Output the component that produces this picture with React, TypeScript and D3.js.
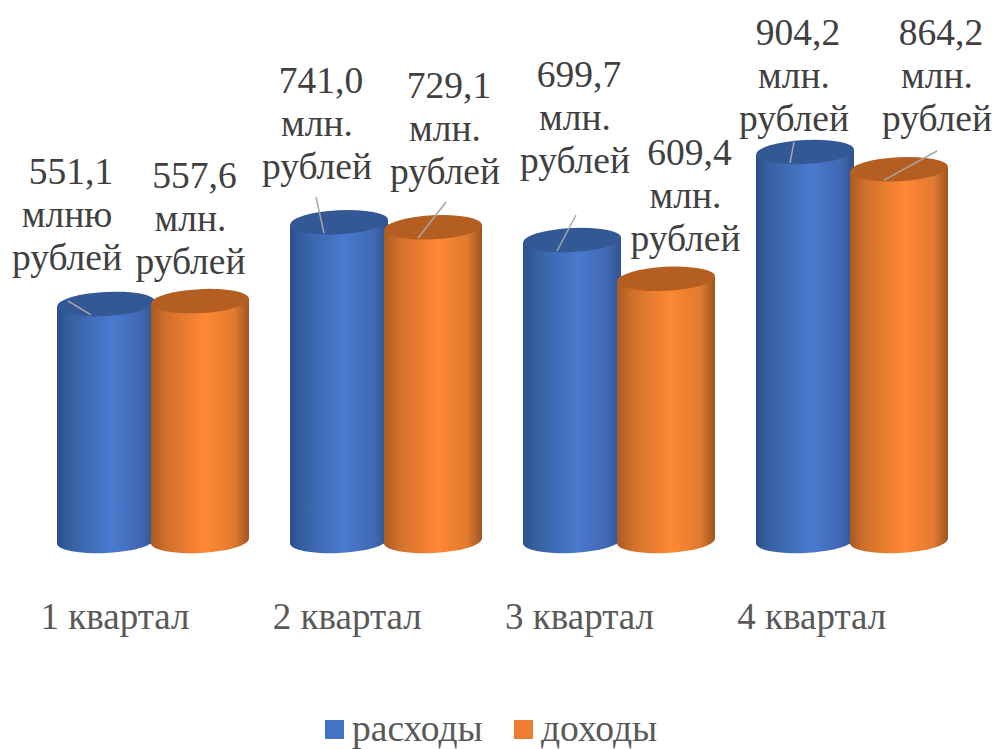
import { useEffect, useRef } from 'react';
import * as d3 from 'd3';

const quarters = ['1 квартал', '2 квартал', '3 квартал', '4 квартал'];
const seriesNames = ['расходы', 'доходы'];
const expenses = [551.1, 741.0, 699.7, 904.2];
const income = [557.6, 729.1, 609.4, 864.2];
const expenseUnits = ['млню', 'млн.', 'млн.', 'млн.'];
const incomeUnits = ['млн.', 'млн.', 'млн.', 'млн.'];

// hand placed data labels: centre x, first baseline, leader start
const expenseLabels = [
  { x: 67, y: 184, lx: 68, ly: 301 },
  { x: 317, y: 93, lx: 316, ly: 197 },
  { x: 575, y: 87, lx: 576, ly: 215 },
  { x: 794, y: 45, lx: 794, ly: 142 },
];
const incomeLabels = [
  { x: 190.5, y: 188, lx: null, ly: null },
  { x: 445, y: 98, lx: 446, ly: 202 },
  { x: 685.5, y: 165, lx: null, ly: null },
  { x: 937, y: 45, lx: 937, ly: 151 },
];

const fontFamily = '"Liberation Serif", "Times New Roman", serif';
const barWidth = 98;
const rx = barWidth / 2;
const ry = 12;
const tilt = -3;

export default function App() {
  const svgRef = useRef<SVGSVGElement | null>(null);

  useEffect(() => {
    if (!svgRef.current) return;
    const svg = d3.select(svgRef.current);
    svg.selectAll('*').remove();

    const x = d3.scaleBand().domain(quarters).range([57, 989]);
    const inner = d3.scaleBand().domain(seriesNames).range([0, 188]);
    const y = d3.scaleLinear().domain([0, 904.2]).range([541, 152]);

    const defs = svg.append('defs');
    const addGradient = (id: string, stops: [number, string][]) => {
      const g = defs.append('linearGradient').attr('id', id);
      stops.forEach(([o, c]) => g.append('stop').attr('offset', o).attr('stop-color', c));
    };
    addGradient('blueSide', [
      [0, '#2b4f8c'],
      [0.12, '#35609f'],
      [0.55, '#4a7acf'],
      [0.85, '#4169b4'],
      [1, '#2f5390'],
    ]);
    addGradient('orangeSide', [
      [0, '#a95a22'],
      [0.15, '#d0702c'],
      [0.55, '#ff8833'],
      [0.85, '#e27a30'],
      [1, '#9d5520'],
    ]);

    const series = [
      { name: seriesNames[0], values: expenses, units: expenseUnits, labels: expenseLabels, side: 'url(#blueSide)', top: '#335896' },
      { name: seriesNames[1], values: income, units: incomeUnits, labels: incomeLabels, side: 'url(#orangeSide)', top: '#b55e22' },
    ];

    const dy = rx * Math.sin((tilt * Math.PI) / 180);
    const bars = svg.append('g');
    quarters.forEach((q, i) => {
      series.forEach((s) => {
        const left = (x(q) || 0) + (inner(s.name) || 0);
        const right = left + barWidth;
        const cx = left + rx;
        const yTop = y(s.values[i]);
        const yBase = y(0);
        bars.append('path')
          .attr('d', `M${left},${yTop - dy}L${right},${yTop + dy}L${right},${yBase + dy}A${rx},${ry} ${tilt} 0 1 ${left},${yBase - dy}Z`)
          .attr('fill', s.side);
        bars.append('ellipse')
          .attr('cx', cx)
          .attr('cy', yTop)
          .attr('rx', rx)
          .attr('ry', ry)
          .attr('transform', `rotate(${tilt} ${cx} ${yTop})`)
          .attr('fill', s.top);
      });
    });

    // leader lines and data labels
    const labels = svg.append('g').attr('font-family', fontFamily).attr('font-size', 37.5).attr('fill', '#404040').attr('text-anchor', 'middle');
    series.forEach((s) => {
      s.values.forEach((v, i) => {
        const l = s.labels[i];
        const cx = (x(quarters[i]) || 0) + (inner(s.name) || 0) + rx;
        if (l.lx !== null) {
          labels.append('line')
            .attr('x1', l.lx)
            .attr('y1', l.ly)
            .attr('x2', cx - 15)
            .attr('y2', y(v) + 11)
            .attr('stroke', '#a6a6a6')
            .attr('stroke-width', 1.5);
        }
        const lines = [d3.format('.1f')(v).replace('.', ','), s.units[i], 'рублей'];
        lines.forEach((t, k) => {
          labels.append('text')
            .attr('x', k === 0 ? l.x + 4 : l.x)
            .attr('y', l.y + k * 43)
            .text(t);
        });
      });
    });

    // category axis, only the tick text is visible
    const xLabels = d3.scaleBand().domain(quarters).range([0, 929]);
    const axis = svg.append('g')
      .attr('transform', 'translate(0,629)')
      .call(d3.axisBottom(xLabels).tickSize(0).tickPadding(0));
    axis.select('.domain').remove();
    axis.selectAll('text')
      .attr('y', 0)
      .attr('dy', 0)
      .attr('font-family', fontFamily)
      .attr('font-size', 37)
      .attr('fill', '#595959');
    axis.selectAll('.tick').attr('transform', (d: any) => `translate(${(xLabels(d) || 0) + 115},0)`);

    // legend
    const legendX = [325, 514];
    const color = d3.scaleOrdinal<string>().domain(seriesNames).range(['#4472c4', '#ed7d31']);
    const legend = svg.append('g');
    seriesNames.forEach((name, i) => {
      legend.append('rect').attr('x', legendX[i]).attr('y', 720).attr('width', 19).attr('height', 19).attr('fill', color(name));
      legend.append('text')
        .attr('x', legendX[i] + 27)
        .attr('y', 740.5)
        .attr('font-family', fontFamily)
        .attr('font-size', 37.5)
        .attr('fill', '#595959')
        .text(name);
    });
  }, []);

  return <svg ref={svgRef} width={995} height={749} style={{ position: 'absolute', left: 0, top: 0, background: '#fff' }}></svg>;
}
